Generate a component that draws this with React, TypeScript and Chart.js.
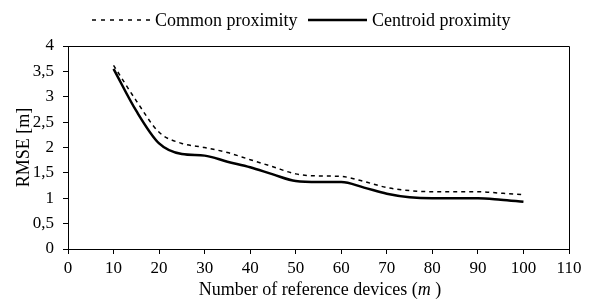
import React, { useEffect, useRef } from "react";
import { Chart, registerables } from "chart.js";
Chart.register(...registerables);

const xValues = [10, 15, 20, 25, 30, 35, 40, 45, 50, 55, 60, 65, 70, 75, 80, 85, 90, 95, 100];
const commonRmse = [3.62, 2.92, 2.3, 2.08, 2.0, 1.9, 1.76, 1.62, 1.48, 1.44, 1.43, 1.33, 1.21, 1.15, 1.13, 1.13, 1.13, 1.1, 1.07];
const centroidRmse = [3.55, 2.72, 2.08, 1.87, 1.84, 1.72, 1.61, 1.47, 1.34, 1.32, 1.32, 1.21, 1.09, 1.02, 1.0, 1.0, 1.0, 0.97, 0.93];
const seriesNames = ["Common proximity", "Centroid proximity"];
const xTitle = ["Number of reference devices (", "m", " )"];
const yTitle = "RMSE [m]";

const FONT = "'Liberation Serif', 'Times New Roman', serif";

export default function App() {
  const ref = useRef<HTMLCanvasElement>(null);
  useEffect(() => {
    document.body.style.margin = "0";
    const decor = {
      id: "decor",
      afterDraw(chart: any) {
        const ctx = chart.ctx;
        const a = chart.chartArea;
        ctx.save();
        ctx.strokeStyle = "#000";
        ctx.lineWidth = 1;
        ctx.beginPath();
        ctx.moveTo(a.left, a.top + 0.5);
        ctx.lineTo(a.right + 0.5, a.top + 0.5);
        ctx.lineTo(a.right + 0.5, a.bottom);
        ctx.stroke();

        // legend
        ctx.fillStyle = "#000";
        ctx.font = `18px ${FONT}`;
        ctx.textBaseline = "middle";
        ctx.textAlign = "left";
        const ly = 20;
        ctx.setLineDash([4, 5]);
        ctx.lineWidth = 1.5;
        ctx.beginPath();
        ctx.moveTo(92, ly);
        ctx.lineTo(151, ly);
        ctx.stroke();
        ctx.fillText(seriesNames[0], 155, ly + 1);
        ctx.setLineDash([]);
        ctx.lineWidth = 2.5;
        ctx.beginPath();
        ctx.moveTo(308, ly);
        ctx.lineTo(367, ly);
        ctx.stroke();
        ctx.fillText(seriesNames[1], 372, ly + 1);

        // x title
        const normal = `18px ${FONT}`;
        const italic = `italic 18px ${FONT}`;
        ctx.font = normal;
        const w0 = ctx.measureText(xTitle[0]).width;
        const w2 = ctx.measureText(xTitle[2]).width;
        ctx.font = italic;
        const w1 = ctx.measureText(xTitle[1]).width;
        let tx = 320 - (w0 + w1 + w2) / 2;
        const ty = 290;
        ctx.font = normal;
        ctx.fillText(xTitle[0], tx, ty);
        tx += w0;
        ctx.font = italic;
        ctx.fillText(xTitle[1], tx, ty);
        tx += w1;
        ctx.font = normal;
        ctx.fillText(xTitle[2], tx, ty);

        // y title
        ctx.save();
        ctx.translate(24, (a.top + a.bottom) / 2);
        ctx.rotate(-Math.PI / 2);
        ctx.textAlign = "center";
        ctx.fillText(yTitle, 0, 0);
        ctx.restore();
        ctx.restore();
      },
    };

    const chart = new Chart(ref.current!, {
      type: "line",
      data: {
        datasets: [
          {
            label: seriesNames[0],
            data: xValues.map((x, i) => ({ x, y: commonRmse[i] })),
            borderColor: "#000",
            borderWidth: 1.5,
            borderDash: [4, 4],
            pointRadius: 0,
            fill: false,
            cubicInterpolationMode: "monotone",
          },
          {
            label: seriesNames[1],
            data: xValues.map((x, i) => ({ x, y: centroidRmse[i] })),
            borderColor: "#000",
            borderWidth: 2.5,
            pointRadius: 0,
            fill: false,
            cubicInterpolationMode: "monotone",
          },
        ],
      },
      options: {
        animation: false,
        responsive: false,
        layout: { padding: { top: 46, right: 20, left: 0, bottom: 0 } },
        plugins: { legend: { display: false }, tooltip: { enabled: false } },
        scales: {
          x: {
            type: "linear",
            min: 0,
            max: 110,
            ticks: { stepSize: 10, color: "#000", font: { family: FONT, size: 17 }, padding: 4, maxRotation: 0 },
            grid: { drawOnChartArea: false, drawTicks: true, tickLength: 5, color: "#000" },
            border: { color: "#000", width: 1 },
            afterFit: (s: any) => { s.height = 51; },
          },
          y: {
            min: 0,
            max: 4,
            ticks: {
              stepSize: 0.5,
              color: "#000",
              font: { family: FONT, size: 17 },
              padding: 9,
              callback: (v: any) => String(v).replace(".", ","),
            },
            grid: { drawOnChartArea: false, drawTicks: true, tickLength: 5, color: "#000" },
            border: { color: "#000", width: 1 },
            afterFit: (s: any) => { s.width = 68; },
          },
        },
      },
      plugins: [decor],
    });
    return () => chart.destroy();
  }, []);
  return <canvas ref={ref} width={589} height={300} style={{ display: "block" }} />;
}
